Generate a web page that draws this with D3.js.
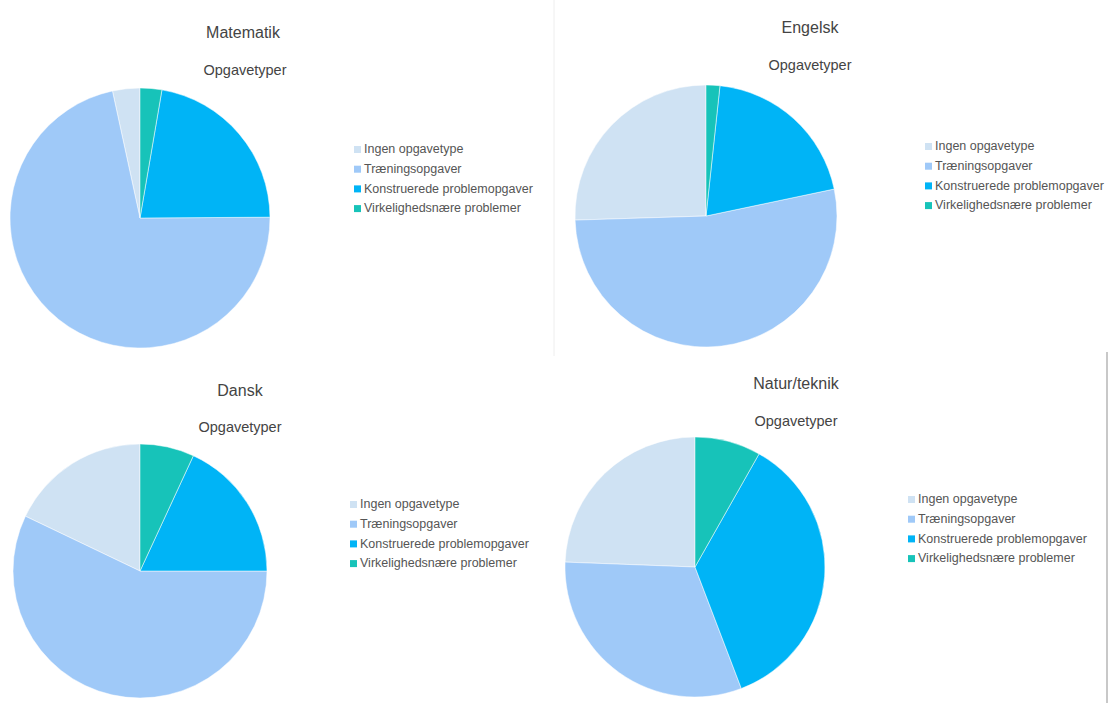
<!DOCTYPE html>
<html>
<head>
<meta charset="utf-8">
<script src="https://cdn.jsdelivr.net/npm/d3@7"></script>
<style>
  body { margin: 0; background: #fff; }
  svg { font-family: "Liberation Sans", Arial, sans-serif; }
</style>
</head>
<body>
<svg id="chart" width="1117" height="703"></svg>
<script>
var categories = ["Ingen opgavetype", "Træningsopgaver", "Konstruerede problemopgaver", "Virkelighedsnære problemer"];
var colors = ["#cfe2f3", "#9fc9f8", "#00b4f6", "#17c3b9"];

// shares per subject, in legend order (percent)
var matematik = [3.4, 71.7, 22.2, 2.7];
var engelsk = [25.5, 52.8, 20.0, 1.7];
var dansk = [17.9, 57.1, 18.1, 6.9];
var naturTeknik = [24.4, 31.4, 36.0, 8.2];

var panels = [
  { title: "Matematik", values: matematik, cx: 140, cy: 218, r: 130, tx: 243, ty: 38, sx: 245, sy: 75, lx: 354, ly: 150 },
  { title: "Engelsk", values: engelsk, cx: 706, cy: 216, r: 131, tx: 810, ty: 33, sx: 810, sy: 70, lx: 925, ly: 147 },
  { title: "Dansk", values: dansk, cx: 140, cy: 571, r: 127, tx: 240, ty: 396, sx: 240, sy: 432, lx: 350, ly: 505 },
  { title: "Natur/teknik", values: naturTeknik, cx: 695, cy: 567, r: 130, tx: 796, ty: 389, sx: 796, sy: 426, lx: 908, ly: 500 }
];

var svg = d3.select("#chart");

// divider lines from the original layout
svg.append("line")
  .attr("x1", 554).attr("x2", 554).attr("y1", 0).attr("y2", 356)
  .attr("stroke", "#eeeeee").attr("stroke-width", 1);
svg.append("line")
  .attr("x1", 1107).attr("x2", 1107).attr("y1", 352).attr("y2", 703)
  .attr("stroke", "#c8c8c8").attr("stroke-width", 2);

var pie = d3.pie().sort(null).startAngle(0).endAngle(-2 * Math.PI);
var color = d3.scaleOrdinal().domain(categories).range(colors);

panels.forEach(function (p) {
  var g = svg.append("g");
  var arc = d3.arc().innerRadius(0).outerRadius(p.r);

  g.append("g")
    .attr("transform", "translate(" + p.cx + "," + p.cy + ")")
    .selectAll("path")
    .data(pie(p.values))
    .enter()
    .append("path")
    .attr("d", arc)
    .attr("fill", function (d, i) { return color(categories[i]); })
    .attr("stroke", "#fff")
    .attr("stroke-width", 0.5);

  g.append("text")
    .attr("x", p.tx).attr("y", p.ty)
    .attr("text-anchor", "middle")
    .style("font-size", "16px")
    .style("fill", "#444")
    .text(p.title);

  g.append("text")
    .attr("x", p.sx).attr("y", p.sy)
    .attr("text-anchor", "middle")
    .style("font-size", "14.5px")
    .style("fill", "#444")
    .text("Opgavetyper");

  var leg = g.selectAll(".leg")
    .data(categories)
    .enter()
    .append("g")
    .attr("transform", function (d, i) { return "translate(" + p.lx + "," + (p.ly + i * 19.7) + ")"; });

  leg.append("rect")
    .attr("x", 0).attr("y", -4)
    .attr("width", 7).attr("height", 7)
    .attr("fill", function (d) { return color(d); });

  leg.append("text")
    .attr("x", 10).attr("y", 0)
    .attr("dominant-baseline", "middle")
    .style("font-size", "12.5px")
    .style("fill", "#555")
    .text(function (d) { return d; });
});
</script>
</body>
</html>
